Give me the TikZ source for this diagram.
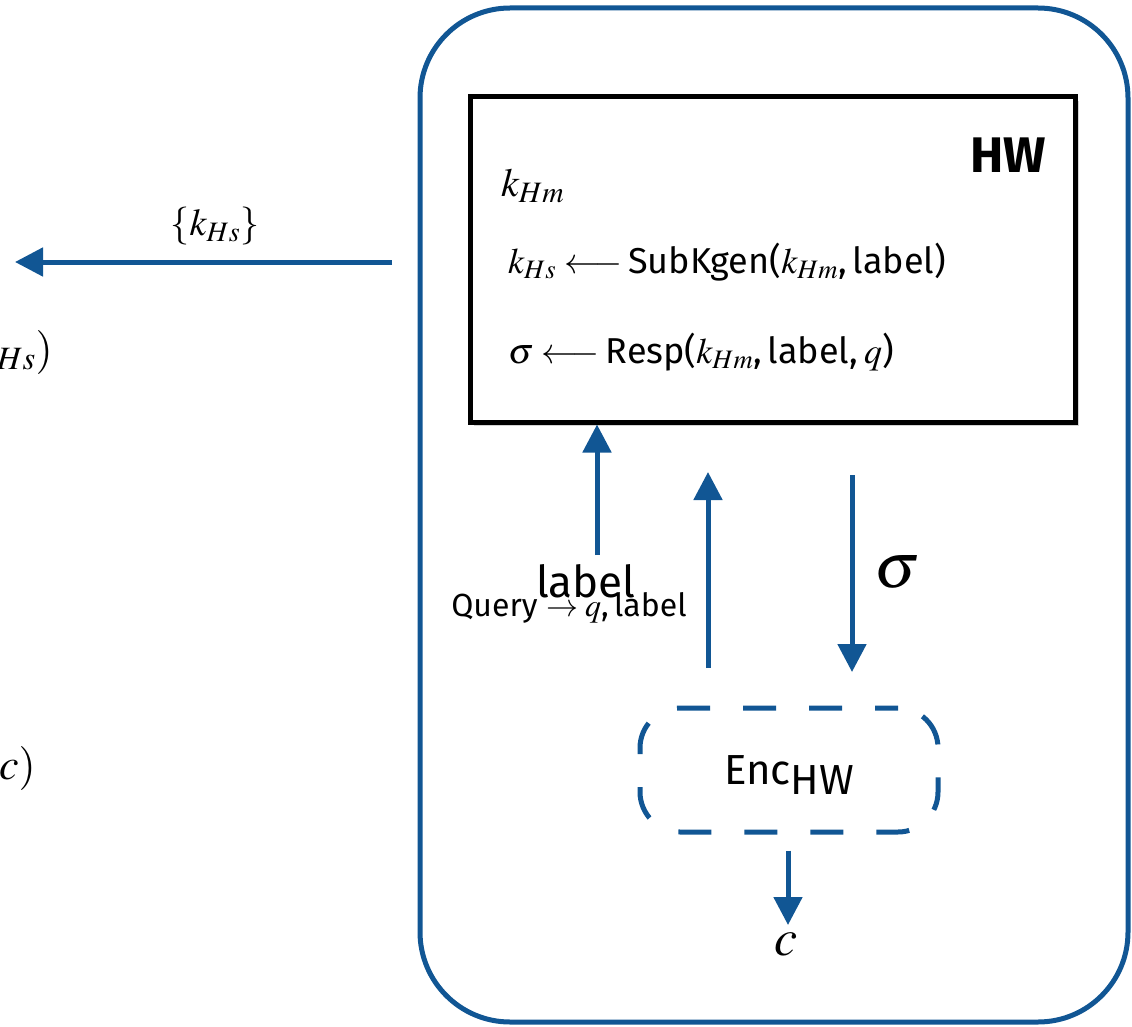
\documentclass[tikz,border=0pt]{standalone}
\usepackage{mathptmx}
\usepackage{fontspec}
\setmainfont{Fira Sans}
\usetikzlibrary{arrows.meta,shadows,positioning}
\definecolor{hwblue}{RGB}{17,86,148}
\tikzset{
  flow/.style={draw=hwblue, line width=5pt, -{Triangle[length=28pt,width=28pt]}},
  devbox/.style={draw=hwblue, line width=5pt, rounded corners=90pt,
    minimum width=708pt, minimum height=1014pt},
  hwbox/.style={draw=black, fill=white, line width=5pt,
    minimum width=605pt, minimum height=325pt,
    drop shadow={shadow xshift=4pt, shadow yshift=-4pt, opacity=0.35}},
  encbox/.style={draw=hwblue, line width=5pt, rounded corners=40pt,
    dash pattern=on 33pt off 33pt, dash phase=10pt,
    minimum width=298pt, minimum height=124pt},
  txt/.style={inner sep=0pt, font=\fontsize{38}{44}\selectfont},
}
\begin{document}
\begin{tikzpicture}[x=1pt, y=-1pt]
\useasboundingbox (0,0) rectangle (1132,1027);
\clip (0,0) rectangle (1132,1027);

% device and hardware module
\node[devbox] (dev) at (774,515) {};
\node[hwbox] (hw) at (772.5,259.5) {};
\node[txt, font=\fontsize{50}{56}\selectfont\bfseries] (hwname) at (1008,155) {HW};
\node[txt, anchor=west, font=\fontsize{40}{46}\selectfont] (km) at (501,186) {$k_{Hm}$};
\node[txt, anchor=west, font=\fontsize{36}{42}\selectfont] (subk) at (508,262)
  {$k_{Hs}\longleftarrow$\,SubKgen($k_{Hm}$,\,label)};
\node[txt, anchor=west, font=\fontsize{36}{42}\selectfont] (resp) at (508,352)
  {$\sigma\longleftarrow$\,Resp($k_{Hm}$,\,label,\,$q$)};

% sub keys going out
\coordinate (kin) at (392,262);
\coordinate (kout) at (15,262);
\draw[flow] (kin) -- (kout);
\node[txt] (ksub) at (215,226) {$\{k_{Hs}\}$};

% cut off text on the left
\node[txt, anchor=east, font=\fontsize{44}{50}\selectfont] (lefta) at (53,352) {$(k_{Hs})$};
\node[txt, anchor=east, font=\fontsize{44}{50}\selectfont] (leftb) at (36,768) {$(c)$};

% label and query into the module
\coordinate (q1) at (597,555);
\draw[flow] (q1) -- (q1 |- hw.south);
\node[txt, font=\fontsize{44}{50}\selectfont] (lblin) at (586,581) {label};
\node[txt, font=\fontsize{32}{38}\selectfont] (query) at (569,608) {Query $\rightarrow q$,\,label};
\coordinate (q2) at (708,668);
\coordinate (q2top) at (708,472);
\draw[flow] (q2) -- (q2top);

% response down to the encoder
\coordinate (s1) at (852,475);
\coordinate (s2) at (852,672);
\draw[flow] (s1) -- (s2);
\node[txt, font=\fontsize{64}{70}\selectfont] (sig) at (897,572) {$\sigma$};

\node[encbox] (enc) at (789,770) {};
\node[txt, font=\fontsize{42}{48}\selectfont] (encname) at (789,775) {Enc\raisebox{-0.45ex}{HW}};
\coordinate (cend) at (788,925);
\draw[flow] (enc.south -| cend) ++(0,16) -- (cend);
\node[txt, font=\fontsize{52}{58}\selectfont] (cout) at (786,944) {$c$};
\end{tikzpicture}
\end{document}
